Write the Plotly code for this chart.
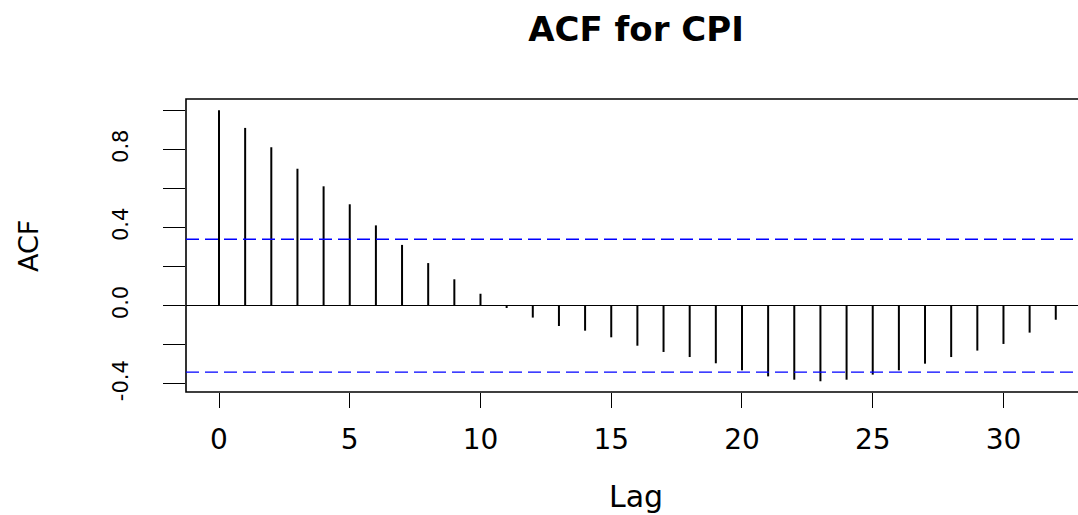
import plotly.graph_objects as go

# ---- data ----
lags = list(range(0, 33))
acf_values = [1.000, 0.910, 0.811, 0.701, 0.611, 0.519, 0.411, 0.311, 0.218, 0.135,
              0.061, -0.012, -0.061, -0.104, -0.128, -0.162, -0.205, -0.237, -0.263,
              -0.295, -0.331, -0.362, -0.379, -0.387, -0.379, -0.353, -0.331, -0.297,
              -0.263, -0.230, -0.196, -0.138, -0.072]
conf_limit = 0.340
x_tick_vals = [0, 5, 10, 15, 20, 25, 30]
x_tick_text = ["0", "5", "10", "15", "20", "25", "30"]
y_tick_vals = [-0.4, -0.2, 0.0, 0.2, 0.4, 0.6, 0.8, 1.0]
y_tick_text = ["-0.4", "", "0.0", "", "0.4", "", "0.8", ""]
title_text = "ACF for CPI"
x_label = "Lag"
y_label = "ACF"

# build vertical spikes from the data
xs, ys = [], []
for lag, v in zip(lags, acf_values):
    xs += [lag, lag, None]
    ys += [0, v, None]

fig = go.Figure()
fig.add_trace(go.Scatter(x=xs, y=ys, mode="lines",
                         line=dict(color="black", width=2),
                         hoverinfo="skip", showlegend=False))

W, H = 1078, 515
ml, mr, mt, mb = 186, 0, 99, 123
pw, ph = W - ml - mr, H - mt - mb

fig.update_layout(
    width=W, height=H,
    margin=dict(l=ml, r=mr, t=mt, b=mb, pad=0),
    paper_bgcolor="white", plot_bgcolor="white",
    showlegend=False,
    title=dict(text="<b>" + title_text + "</b>", xref="paper", x=(636 - ml) / pw,
               xanchor="center", yref="container", y=1 - 29 / H, yanchor="middle",
               font=dict(family="DejaVu Sans", size=34, color="black")),
    xaxis=dict(range=[-1.262, 32.85], showgrid=False, zeroline=False, showline=False,
               tickmode="array", tickvals=x_tick_vals, ticktext=x_tick_text,
               ticks="outside", ticklen=15, tickwidth=1.4, tickcolor="black",
               ticklabelstandoff=7,
               tickfont=dict(family="DejaVu Sans", size=28, color="black")),
    yaxis=dict(range=[-0.442, 1.058], showgrid=False, zeroline=True,
               zerolinecolor="black", zerolinewidth=1.3, showline=False,
               tickmode="array", tickvals=y_tick_vals, ticktext=y_tick_text,
               ticks="outside", ticklen=22, tickwidth=1.3, tickcolor="black",
               tickangle=-90, ticklabelstandoff=27,
               tickfont=dict(family="DejaVu Sans", size=21, color="black")),
    shapes=[
        dict(type="rect", xref="paper", yref="paper", x0=0, x1=1.05, y0=0, y1=1,
             line=dict(color="black", width=1.6), fillcolor="rgba(0,0,0,0)", layer="above"),
        dict(type="line", xref="paper", yref="y", x0=0, x1=1, y0=conf_limit, y1=conf_limit,
             line=dict(color="blue", width=1.4, dash="13px,6px")),
        dict(type="line", xref="paper", yref="y", x0=0, x1=1, y0=-conf_limit, y1=-conf_limit,
             line=dict(color="blue", width=1.4, dash="13px,6px")),
    ],
    annotations=[
        dict(text=x_label, xref="paper", yref="paper", x=(636 - ml) / pw,
             y=(H - mb - 496) / ph, xanchor="center", yanchor="middle", showarrow=False,
             font=dict(family="DejaVu Sans", size=30, color="black")),
        dict(text=y_label, xref="paper", yref="paper", x=(28 - ml) / pw,
             y=(H - mb - 246) / ph, xanchor="center", yanchor="middle", showarrow=False,
             textangle=-90, font=dict(family="DejaVu Sans", size=27, color="black")),
    ],
)

fig.write_html("out.html")
